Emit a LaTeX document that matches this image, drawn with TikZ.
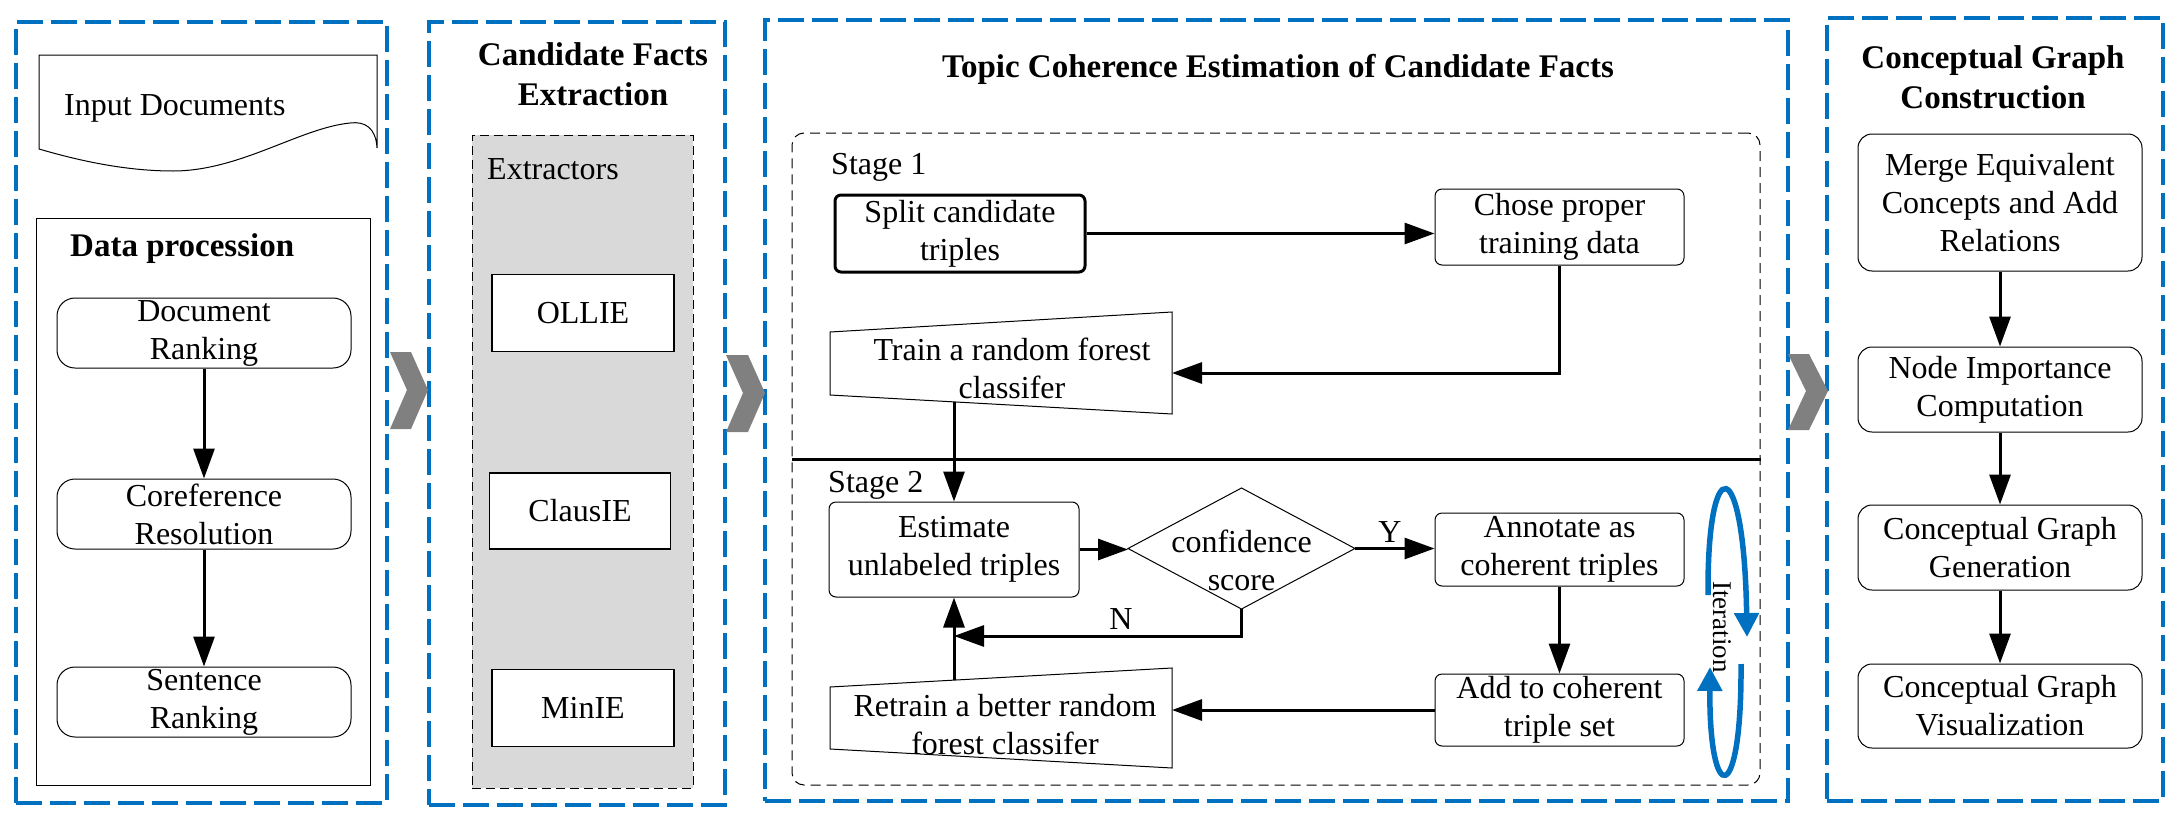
\documentclass[tikz,border=0pt]{standalone}
\usepackage{fontspec}
\setmainfont{Liberation Serif}
\usetikzlibrary{arrows.meta}
\definecolor{pblue}{HTML}{0070C0}
\definecolor{chev}{HTML}{808080}
\definecolor{exgray}{HTML}{D9D9D9}
\begin{document}
\begin{tikzpicture}[x=1pt,y=-1pt,
  txt/.style={font=\fontsize{32pt}{38pt}\selectfont, align=center, inner sep=0pt},
  ttl/.style={font=\fontsize{33pt}{40pt}\selectfont\bfseries, align=center, inner sep=0pt},
  panel/.style={draw=pblue, line width=3.5pt, dash pattern=on 26pt off 8pt, inner sep=0pt},
  rbox/.style={txt, draw, line width=1pt, rounded corners=18pt},
  sbox/.style={txt, draw, line width=1pt, rounded corners=7pt},
  cbox/.style={txt, draw, line width=1pt, rounded corners=14pt},
  ebox/.style={txt, draw, line width=1.2pt, fill=white},
  thin/.style={line width=1pt},
  arr/.style={line width=3pt, -{Triangle[length=30pt,width=21pt]}},
  ln/.style={line width=3pt},
  chevron/.style={fill=chev, draw=none},
  iter/.style={draw=pblue, line width=5.5pt, -{Triangle[length=24pt,width=24pt]}},
]
\path[use as bounding box] (0,0) rectangle (2179,822);

% ---------- panels ----------
\node[panel, minimum width=371pt, minimum height=781pt] (p1) at (201.5,412.5) {};
\node[panel, minimum width=296pt, minimum height=783pt] (p2) at (577,413.5) {};
\node[panel, minimum width=1023pt, minimum height=781pt] (p3) at (1276.5,410.5) {};
\node[panel, minimum width=336pt, minimum height=783pt] (p4) at (1995,409.5) {};

% ---------- chevrons ----------
\fill[chevron] (390,352) -- (411,352) -- (428,390) -- (411,429) -- (390,429) -- (407,390) -- cycle;
\fill[chevron] (726,355) -- (748,355) -- (765,393) -- (748,432) -- (726,432) -- (743,393) -- cycle;
\fill[chevron] (1788,354) -- (1809,354) -- (1828,391) -- (1809,430) -- (1788,430) -- (1806,391) -- cycle;

% ---------- panel 1 ----------
\draw[thin] (39,55) -- (377,55) -- (377,148)
  .. controls (376,128) and (365,121) .. (350,123)
  .. controls (300,128) and (240,171) .. (173,171)
  .. controls (120,171) and (70,158) .. (39,149) -- cycle;
\node[txt, anchor=base west] (indoc) at (64,115) {Input Documents};
\node[draw, thin, minimum width=334pt, minimum height=567pt, inner sep=0pt] (dpbox) at (203,501.5) {};
\node[ttl, anchor=base west] (t1) at (70,256) {Data procession};
\node[rbox, minimum width=294pt, minimum height=70pt] (dr) at (204,333) {Document\\Ranking};
\node[rbox, minimum width=294pt, minimum height=70pt] (cr) at (204,514) {Coreference\\Resolution};
\node[rbox, minimum width=294pt, minimum height=70pt] (sr) at (204,702) {Sentence\\Ranking};
\draw[arr] (dr.south) -- (cr.north);
\draw[arr] (cr.south) -- (sr.north);

% ---------- panel 2 ----------
\node[ttl] (t2) at (593,74) {Candidate Facts\\Extraction};
\node[draw, thin, dash pattern=on 9pt off 5pt, fill=exgray, minimum width=221pt, minimum height=653pt, inner sep=0pt] (exbox) at (582.5,461.5) {};
\node[txt, anchor=base west] (exl) at (487,179) {Extractors};
\node[ebox, minimum width=182pt, minimum height=77pt] (ollie) at (583,313) {OLLIE};
\node[ebox, minimum width=181pt, minimum height=76pt] (clausie) at (580,511) {ClausIE};
\node[ebox, minimum width=182pt, minimum height=77pt] (minie) at (583,708) {MinIE};

% ---------- panel 3 ----------
\node[ttl] (t3) at (1278,69) {Topic Coherence Estimation of Candidate Facts};
\node[draw, thin, dash pattern=on 10pt off 6pt, rounded corners=12pt, minimum width=968pt, minimum height=652pt, inner sep=0pt] (stagebox) at (1276,459) {};
\draw[ln] (stagebox.west) -- (stagebox.east);
\node[txt, anchor=base west] (st1) at (831,174) {Stage 1};
\node[txt, anchor=base west] (st2) at (828,492) {Stage 2};

\node[txt, draw, line width=3pt, rounded corners=6pt, minimum width=250pt, minimum height=77pt] (split) at (960,233.5) {Split candidate\\triples};
\node[sbox, minimum width=249pt, minimum height=76pt] (chose) at (1559.5,227) {Chose proper\\training data};
\draw[arr] (split.east) -- (split.east -| chose.west);

\draw[thin] (830,332) -- (1172,312) -- (1172,414) -- (830,395) -- cycle;
\node[txt] (train) at (1012,368) {Train a random forest\\classifer};
\coordinate (trainE) at (1172,373);
\coordinate (trainS) at (954,402);
\draw[arr] (chose.south) |- (trainE);

\node[sbox, minimum width=250pt, minimum height=95pt] (est) at (954,549.5) {Estimate\\unlabeled triples};
\draw[arr] (trainS) -- (est.north);

\draw[thin] (1128,548.5) -- (1241.5,488) -- (1355,548.5) -- (1241.5,609) -- cycle;
\coordinate (confW) at (1128,548.5);
\coordinate (confE) at (1355,548.5);
\coordinate (confS) at (1241.5,609);
\node[txt] (conf) at (1241.5,560) {confidence\\score};
\draw[arr] (est.east) -- (est.east -| confW);

\node[sbox, minimum width=249pt, minimum height=73pt] (ann) at (1559.5,549.5) {Annotate as\\coherent triples};
\draw[arr] (confE) -- (confE -| ann.west);
\node[txt] (ylab) at (1390,532) {Y};

\node[sbox, minimum width=249pt, minimum height=72pt] (add) at (1559.5,710) {Add to coherent\\triple set};
\draw[arr] (ann.south) -- (add.north);

\draw[thin] (830,687) -- (1172,668) -- (1172,768) -- (830,749) -- cycle;
\node[txt] (retrain) at (1005,725) {Retrain a better random\\forest classifer};
\coordinate (retE) at (1172,710);
\coordinate (retN) at (954,680);
\draw[arr] (add.west) -- (retE);
\draw[arr] (retN) -- (est.south);
\coordinate (njoin) at (954,636);
\draw[arr] (confS) |- (njoin);
\node[txt] (nlab) at (1121,619) {N};

% iteration
\draw[iter] (1708,595) .. controls (1707,450) and (1744,450) .. (1747,637);
\draw[iter] (1741,664) .. controls (1742,808) and (1709,808) .. (1710,667);
\node[font=\fontsize{27pt}{30pt}\selectfont, rotate=-90, inner sep=0pt] (itl) at (1722,627) {Iteration};

% ---------- panel 4 ----------
\node[ttl] (t4) at (1993,77) {Conceptual Graph\\Construction};
\node[cbox, minimum width=284pt, minimum height=137pt] (merge) at (2000,202.5) {Merge Equivalent\\Concepts and Add\\Relations};
\node[cbox, minimum width=284pt, minimum height=85pt] (nic) at (2000,389.5) {Node Importance\\Computation};
\node[cbox, minimum width=284pt, minimum height=85pt] (cgg) at (2000,547.5) {Conceptual Graph\\Generation};
\node[cbox, minimum width=284pt, minimum height=84pt] (cgv) at (2000,706) {Conceptual Graph\\Visualization};
\draw[arr] (merge.south) -- (nic.north);
\draw[arr] (nic.south) -- (cgg.north);
\draw[arr] (cgg.south) -- (cgv.north);
\end{tikzpicture}
\end{document}
